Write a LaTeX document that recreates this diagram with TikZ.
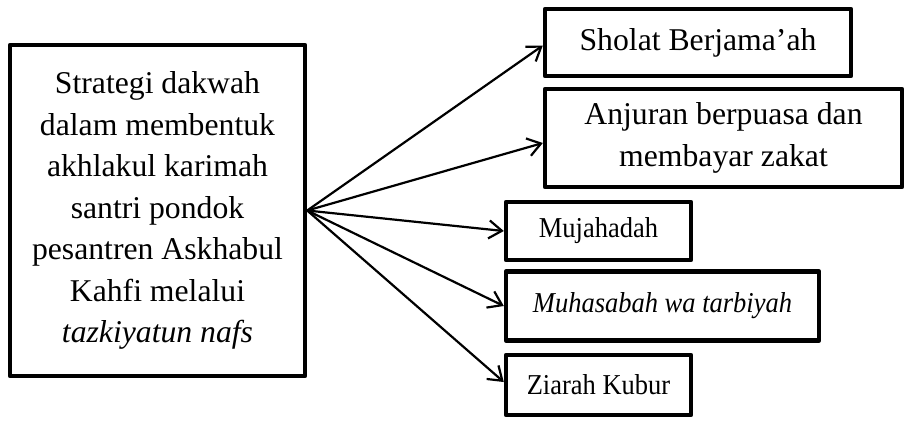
\documentclass[tikz,border=0pt]{standalone}
\usepackage{fontspec}
\setmainfont{Liberation Serif}[ItalicFont = {Liberation Serif Italic}, BoldFont = {Liberation Serif Bold}]
\newfontfamily\rapat{Liberation Serif}[ItalicFont = {Liberation Serif Italic}, FakeStretch = 0.92]
\usetikzlibrary{arrows.meta}
\begin{document}
\begin{tikzpicture}[x = 0.5pt, y = -0.5pt,
        kotak/.style = {draw, line width = 2.2pt, line join = round, align = center,
            inner sep = 0pt, font = \fontsize{15.85pt}{20.75pt}\selectfont},
        kecil/.style = {font = \rapat\fontsize{14.4pt}{18pt}\selectfont},
        panah/.style = {line width = 1.1pt, -{Straight Barb[length = 6.5pt, width = 9pt]}}]
            \useasboundingbox (0, 0) rectangle (924, 420);
            \node [kotak, minimum width = 147.5pt, minimum height = 165.5pt] (strategi) at (157.5, 210.5)
                {Strategi dakwah\\dalam membentuk\\akhlakul karimah\\santri pondok\\pesantren Askhabul\\Kahfi melalui\\\textit{tazkiyatun nafs}};
            \node [kotak, minimum width = 153pt, minimum height = 33.5pt] (sholat) at (698, 42.5) {Sholat Berjama’ah};
            \node [kotak, minimum width = 178.5pt, minimum height = 49pt] (anjuran) at (723.5, 138) {Anjuran berpuasa dan\\membayar zakat};
            \node [kotak, kecil, minimum width = 92.5pt, minimum height = 29pt] (mujahadah) at (598.5, 231) {Mujahadah};
            \node [kotak, kecil, minimum width = 156.5pt, minimum height = 34.5pt] (muhasabah) at (662.5, 306) {\textit{Muhasabah wa tarbiyah}};
            \node [kotak, kecil, minimum width = 92.5pt, minimum height = 30pt] (ziarah) at (598.5, 385) {Ziarah Kubur};
            \draw [panah] (strategi.east) to ([yshift = -1.5pt] sholat.west);
            \draw [panah] (strategi.east) to ([yshift = -2.5pt] anjuran.west);
            \draw [panah] (strategi.east) to (mujahadah.west);
            \draw [panah] (strategi.east) to (muhasabah.west);
            \draw [panah] (strategi.east) to ([yshift = 1.5pt] ziarah.west);
        \end{tikzpicture}
\end{document}
